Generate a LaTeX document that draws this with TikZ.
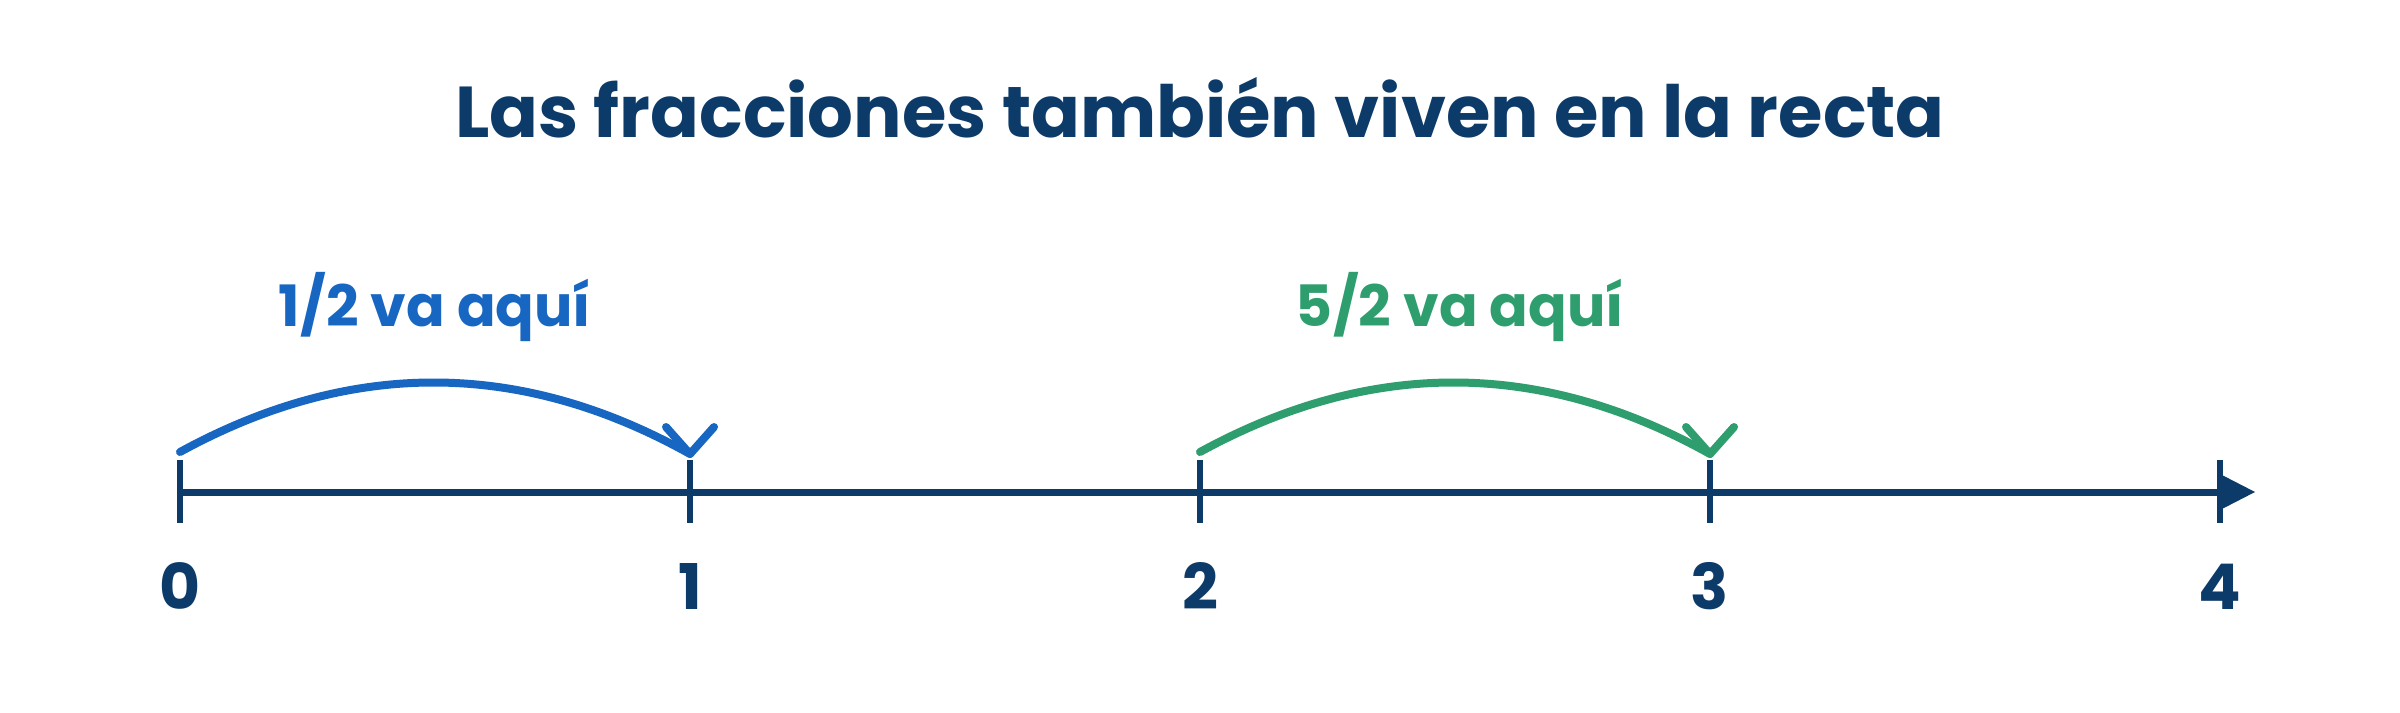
\documentclass[tikz,border=0pt]{standalone}
\usepackage{fontspec}
\setmainfont{Poppins}
\definecolor{navy}{HTML}{0D3B69}
\definecolor{jblue}{HTML}{1766C2}
\definecolor{jgreen}{HTML}{2E9E6E}
\begin{document}
\begin{tikzpicture}[x=1pt,y=-1pt,
  axisline/.style={navy,line width=7pt},
  tickline/.style={navy,line width=6pt},
  jump/.style={line width=8pt,line cap=round,line join=round},
  numlabel/.style={anchor=base,inner sep=0pt,text=navy,font=\bfseries\fontsize{63}{70}\selectfont},
  jumplabel/.style={anchor=base,inner sep=0pt,font=\bfseries\fontsize{57}{64}\selectfont},
  titlelabel/.style={anchor=base,inner sep=0pt,text=navy,font=\bfseries\fontsize{72}{80}\selectfont}]
\useasboundingbox (0,0) rectangle (2400,712);
\fill[white] (0,0) rectangle (2400,712);
% title
\node[titlelabel] (title) at (1200,137) {Las fracciones también viven en la recta};
% axis
\coordinate (t0) at (180,492);
\coordinate (t1) at (690,492);
\coordinate (t2) at (1200,492);
\coordinate (t3) at (1710,492);
\coordinate (t4) at (2220,492);
\coordinate (tip) at (2255,492);
\draw[axisline] ([xshift=-3pt]t0) -- (t4);
\fill[navy] ([yshift=-18pt]t4) -- (tip) -- ([yshift=18pt]t4) -- cycle;
\foreach \t in {t0,t1,t2,t3,t4}{
  \draw[tickline] ([yshift=32pt]\t) -- ([yshift=-31pt]\t);
}
% number labels
\node[numlabel] (n0) at (180,609) {0};
\node[numlabel] (n1) at (690,609) {1};
\node[numlabel] (n2) at (1200,609) {2};
\node[numlabel] (n3) at (1710,609) {3};
\node[numlabel] (n4) at (2220,609) {4};
% jumps
\coordinate (a1s) at (180,452);
\coordinate (a1e) at (690,454);
\coordinate (a2s) at (1200,452);
\coordinate (a2e) at (1710,454);
\draw[jump,jblue] (a1s) .. controls (350,359) and (520,359) .. (a1e);
\draw[jump,jblue] ([shift={(-24pt,27pt)}]a1e) -- (a1e) -- ([shift={(24pt,27pt)}]a1e);
\draw[jump,jgreen] (a2s) .. controls (1370,359) and (1540,359) .. (a2e);
\draw[jump,jgreen] ([shift={(-24pt,27pt)}]a2e) -- (a2e) -- ([shift={(24pt,27pt)}]a2e);
% jump labels
\node[jumplabel,text=jblue] (l1) at (435,326) {1/2 va aquí};
\node[jumplabel,text=jgreen] (l2) at (1460,326) {5/2 va aquí};
\end{tikzpicture}
\end{document}
